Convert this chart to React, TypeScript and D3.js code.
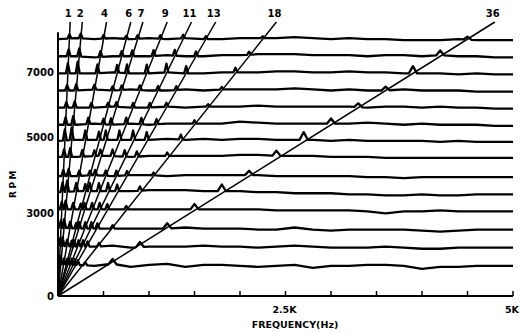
import React from 'react';
import * as d3 from 'd3';

// ---------- data ----------
const orders = [1, 2, 4, 6, 7, 9, 11, 13, 18, 36];
const orderLabels = ['1', '2', '4', '6', '7', '9', '11', '13', '18', '36'];
// spike height (rpm units) of the response peak on each order line
const orderPeak = [200, 230, 170, 150, 170, 170, 170, 140, 90, 140];
const orderTopRpm = 8000;

const traceRpm = [1000, 1500, 2000, 2500, 3000, 3500, 4000, 4500, 5000, 5500, 6000, 6500, 7000, 7500];
const tracePeakGain = [1.0, 1.1, 1.1, 1.1, 1.4, 0.9, 1.1, 1.6, 1.1, 0.8, 0.8, 1.5, 1.0, 0.6];

// trace deflection (rpm) sampled every 200 Hz from 0 to 5000 Hz
const wobbleFreq = [0, 200, 400, 600, 800, 1000, 1200, 1400, 1600, 1800, 2000, 2200, 2400, 2600, 2800, 3000, 3200, 3400, 3600, 3800, 4000, 4200, 4400, 4600, 4800, 5000];
const traceWobble = [
  [-60, -90, -120, -60, -150, -90, -60, -150, -90, -90, -120, -150, -120, -90, -180, -120, -120, -90, -90, -120, -210, -150, -150, -120, -120, -120],
  [-30, -60, -60, -30, -90, -60, -60, -60, -30, -60, -60, -90, -60, -30, -60, -90, -90, -90, -60, -90, -120, -120, -90, -90, -90, -90],
  [0, -30, -30, -30, -30, -30, -30, 0, -30, -30, -30, -60, -60, 0, -60, -90, -60, -60, -60, -60, -90, -120, -90, -60, -60, -60],
  [30, 30, 30, 30, 30, 30, 30, 30, 30, 30, 30, 30, 0, 0, 0, 0, 0, -30, -90, -30, -30, 0, -30, -30, -30, -30],
  [30, 60, 60, 60, 60, 90, 90, 90, 60, 60, 60, 30, 30, 0, 0, 0, -30, -30, -60, -60, -30, -60, -60, -30, -30, -30],
  [0, 0, 30, 0, 30, 30, 0, 30, 30, 30, 30, 30, 0, 0, 0, 0, 0, -30, -30, -60, -30, -30, -30, -30, -30, -30],
  [60, 60, 90, 90, 60, 90, 90, 90, 90, 90, 120, 120, 90, 90, 90, 60, 60, 60, 30, 30, 30, 30, 30, 30, 30, 30],
  [30, 60, 60, 60, 60, 60, 90, 60, 90, 60, 90, 90, 60, 60, 60, 30, 60, 30, 30, 30, 30, 0, 30, 0, 0, 0],
  [0, 0, 30, 0, 30, 0, 30, 30, 30, 30, 90, 60, 30, 30, 30, 30, 30, 60, 30, 0, 30, 0, 0, 0, -30, -30],
  [0, 0, 0, 30, 0, 0, 30, 0, 30, 30, 30, 60, 30, 30, 30, 30, 30, 0, 30, 30, 0, 30, 0, 0, -30, -30],
  [0, 0, 30, 0, 30, 0, 0, 30, 0, 30, 30, 30, 30, 60, 30, 0, 30, 0, 0, 30, 0, 0, 0, -30, -30, -30],
  [0, 0, 0, 30, 0, 0, 30, 0, 0, 30, 30, 30, 60, 60, 30, 30, 60, 30, 30, 0, 0, 0, -30, 0, -30, -30],
  [0, 0, -30, 0, 0, 0, 30, 0, 0, 30, 30, 60, 60, 60, 30, 30, 30, 0, 30, 30, 0, 30, 0, 0, -30, -30],
  [0, 30, 0, 30, 0, 30, 0, 30, 0, 0, 30, 30, 30, 60, 30, 0, 30, 0, 0, -30, -30, -30, 0, -30, -30, -30],
];

const freqTicks = [500, 1000, 1500, 2000, 2500, 3000, 3500, 4000, 4500, 5000];
const freqLabelValues = [2500, 5000];
const freqLabelTexts = ['2.5K', '5K'];
const rpmLabelValues = [0, 3000, 5000, 7000];

// ---------- chart ----------
const W = 522;
const H = 334;

export default function App() {
  const x = d3.scaleLinear().domain([0, 5000]).range([58, 513]);
  const y = d3.scaleLinear().domain([0, 8000]).range([296, 22]);
  // printed RPM axis of the original figure
  const yAxis = d3.scaleLinear().domain([0, 3000, 5000, 7000]).range([296, 213, 137, 72]);

  const line = d3
    .line<[number, number]>()
    .x((d) => x(d[0]))
    .y((d) => y(d[1]));

  const tracePaths = traceRpm.map((rpm, ti) => {
    const wob = traceWobble[ti];
    const base = d3.scaleLinear().domain(wobbleFreq).range(wob).clamp(true);
    const spikes: { f: number; h: number; hw: number }[] = [];
    orders.forEach((n, oi) => {
      const f = (n * rpm) / 60;
      if (f > 5 && f < 4990) {
        spikes.push({ f, h: orderPeak[oi] * tracePeakGain[ti], hw: n === 36 ? 45 : 22 });
      }
    });
    const pts: [number, number][] = [];
    wobbleFreq.forEach((f, i) => {
      if (!spikes.some((s) => Math.abs(s.f - f) < s.hw * 1.2)) pts.push([f, rpm + wob[i]]);
    });
    spikes.forEach((s) => {
      const f0 = Math.max(0, s.f - s.hw);
      const f1 = Math.min(5000, s.f + s.hw);
      pts.push([f0, rpm + base(f0)]);
      pts.push([s.f, rpm + base(s.f) + s.h]);
      pts.push([f1, rpm + base(f1)]);
    });
    pts.sort((a, b) => a[0] - b[0]);
    return line(pts) || '';
  });

  const font = "'DejaVu Sans', sans-serif";

  return (
    <svg width={W} height={H} style={{ display: 'block', position: 'absolute', left: 0, top: 0, background: '#fff' }}>
      <rect x={0} y={0} width={W} height={H} fill="#fff" />
      {/* axes */}
      <line x1={x(0)} x2={x(0)} y1={y(0)} y2={y(7700)} stroke="#000" strokeWidth={2} />
      <line x1={x(0)} x2={x(5000)} y1={y(0)} y2={y(0)} stroke="#000" strokeWidth={2} />
      {freqTicks.map((f) => (
        <line key={f} x1={x(f)} x2={x(f)} y1={y(0)} y2={y(0) - 5} stroke="#000" strokeWidth={1.5} />
      ))}
      {/* order lines */}
      {orders.map((n) => (
        <line
          key={n}
          x1={x(0)}
          y1={y(0)}
          x2={x((n * orderTopRpm) / 60)}
          y2={y(orderTopRpm)}
          stroke="#000"
          strokeWidth={1.5}
        />
      ))}
      {/* traces */}
      {tracePaths.map((d, i) => (
        <path key={i} d={d} fill="none" stroke="#000" strokeWidth={2.3} strokeLinejoin="round" />
      ))}
      {/* order labels */}
      {orders.map((n, i) => (
        <text
          key={n}
          x={x((n * orderTopRpm) / 60) - 2}
          y={y(orderTopRpm) - 5}
          textAnchor="middle"
          fontFamily={font}
          fontWeight="bold"
          fontSize={10}
          fill="#000"
        >
          {orderLabels[i]}
        </text>
      ))}
      {/* rpm labels */}
      {rpmLabelValues.map((v) => (
        <text
          key={v}
          x={x(0) - 4}
          y={yAxis(v)}
          dy="0.36em"
          textAnchor="end"
          fontFamily={font}
          fontWeight="bold"
          fontSize={10}
          fill="#000"
        >
          {String(v)}
        </text>
      ))}
      {/* frequency labels */}
      {freqLabelValues.map((v, i) => (
        <text
          key={v}
          x={x(v) - 1}
          y={y(0) + 17}
          textAnchor="middle"
          fontFamily={font}
          fontWeight="bold"
          fontSize={9.5}
          fill="#000"
        >
          {freqLabelTexts[i]}
        </text>
      ))}
      <text x={295} y={328} textAnchor="middle" fontFamily={font} fontWeight="bold" fontSize={9.5} fill="#000">
        FREQUENCY(Hz)
      </text>
      <text
        transform="translate(16,183) rotate(-90)"
        textAnchor="middle"
        fontFamily={font}
        fontWeight="bold"
        fontSize={9}
        letterSpacing={2.5}
        fill="#000"
      >
        RPM
      </text>
    </svg>
  );
}
